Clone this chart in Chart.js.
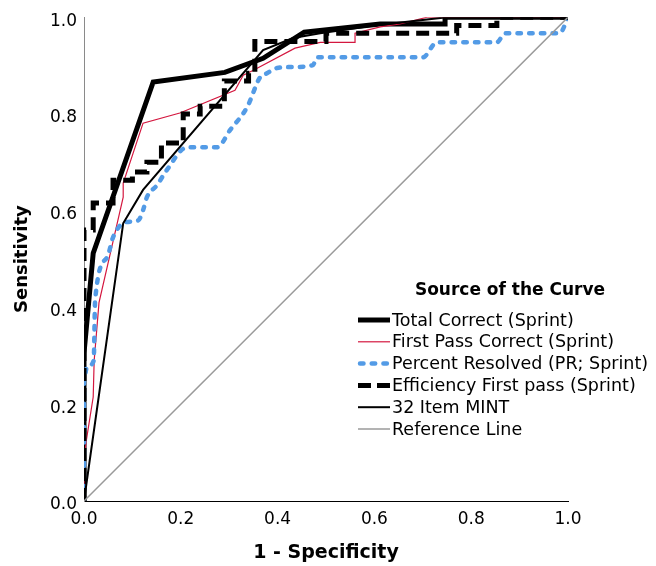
<!DOCTYPE html>
<html>
<head>
<meta charset="utf-8">
<script src="https://cdn.jsdelivr.net/npm/chart.js@4/dist/chart.umd.min.js"></script>
<style>
  html, body { margin: 0; padding: 0; background: #fff; }
  #wrap { width: 656px; height: 566px; }
</style>
</head>
<body>
<div id="wrap"><canvas id="roc" width="656" height="566"></canvas></div>
<script>
// ROC curves (x = 1 - specificity, y = sensitivity)
const totalFpr = [0, 0, 0.019, 0.143, 0.291, 0.37, 0.455, 0.612, 0.746, 0.746, 1]
const totalTpr = [0, 0.306, 0.512, 0.866, 0.886, 0.915, 0.969, 0.986, 0.986, 1, 1]

const firstPassFpr = [0, 0, 0.004, 0.019, 0.021, 0.031, 0.081, 0.081, 0.122, 0.198, 0.312, 0.329, 0.349, 0.436, 0.488, 0.56, 0.56, 0.612, 0.653, 0.709, 1]
const firstPassTpr = [0, 0.07, 0.12, 0.215, 0.29, 0.41, 0.628, 0.657, 0.781, 0.802, 0.849, 0.88, 0.89, 0.936, 0.948, 0.948, 0.967, 0.98, 0.986, 1, 1]

const resolvedFpr = [0, 0, 0.006, 0.02, 0.023, 0.048, 0.06, 0.085, 0.112, 0.122, 0.13, 0.151, 0.171, 0.213, 0.275, 0.302, 0.337, 0.364, 0.378, 0.399, 0.432, 0.473, 0.481, 0.653, 0.70, 0.729, 0.853, 0.87, 0.983, 1]
const resolvedTpr = [0, 0.25, 0.277, 0.29, 0.415, 0.504, 0.545, 0.576, 0.58, 0.601, 0.628, 0.653, 0.684, 0.731, 0.731, 0.767, 0.814, 0.876, 0.884, 0.895, 0.897, 0.901, 0.917, 0.917, 0.917, 0.948, 0.948, 0.967, 0.967, 1]

const efficiencyFpr = [0, 0, 0.019, 0.019, 0.06, 0.06, 0.1, 0.1, 0.13, 0.13, 0.16, 0.16, 0.205, 0.205, 0.24, 0.24, 0.29, 0.29, 0.34, 0.34, 0.353, 0.353, 0.5, 0.5, 0.77, 0.77, 0.853, 0.853, 1]
const efficiencyTpr = [0, 0.56, 0.56, 0.616, 0.616, 0.663, 0.663, 0.68, 0.68, 0.70, 0.70, 0.74, 0.74, 0.80, 0.80, 0.816, 0.816, 0.868, 0.868, 0.884, 0.884, 0.95, 0.95, 0.967, 0.967, 0.983, 0.983, 1, 1]

const mintFpr = [0, 0.081, 0.122, 0.37, 0.432, 0.488, 0.6, 0.75, 1]
const mintTpr = [0, 0.574, 0.643, 0.932, 0.957, 0.967, 0.983, 1, 1]

const referenceFpr = [0, 1]
const referenceTpr = [0, 1]

const seriesLabels = [
  'Total Correct (Sprint)',
  'First Pass Correct (Sprint)',
  'Percent Resolved (PR; Sprint)',
  'Efficiency First pass (Sprint)',
  '32 Item MINT',
  'Reference Line'
]
const xTickLabels = ['0.0', '0.2', '0.4', '0.6', '0.8', '1.0']
const yTickLabels = ['0.0', '0.2', '0.4', '0.6', '0.8', '1.0']

const FONT = '"DejaVu Sans", "Liberation Sans", sans-serif'

function points(xs, ys) {
  return xs.map((x, i) => ({ x: x, y: ys[i] }))
}

function curve(label, xs, ys, style) {
  return Object.assign({
    label: label,
    data: points(xs, ys),
    showLine: true,
    fill: false,
    pointRadius: 0,
    pointHoverRadius: 0,
    tension: 0,
    borderCapStyle: 'butt',
    borderJoinStyle: 'miter'
  }, style)
}

// legend drawn by hand, SPSS style: title on top, short line sample + label
const curveLegend = {
  id: 'curveLegend',
  afterDraw(chart) {
    const ctx = chart.ctx
    ctx.save()
    ctx.fillStyle = '#000'
    ctx.textBaseline = 'middle'
    ctx.textAlign = 'center'
    ctx.font = 'bold 17px ' + FONT
    ctx.fillText('Source of the Curve', 510, 291)

    ctx.textAlign = 'left'
    ctx.font = '17.5px ' + FONT
    chart.data.datasets.forEach((ds, i) => {
      const y = 320 + i * 21.8
      ctx.beginPath()
      ctx.strokeStyle = ds.borderColor
      ctx.lineWidth = ds.borderWidth
      ctx.setLineDash(ds.legendDash || ds.borderDash || [])
      ctx.lineCap = ds.borderCapStyle || 'butt'
      ctx.moveTo(ds.borderCapStyle === 'round' ? 360 : 358, y)
      ctx.lineTo(ds.borderCapStyle === 'round' ? 389 : 390, y)
      ctx.stroke()
      ctx.fillText(ds.label, 392, y + 1)
    })
    ctx.restore()
  }
}

const datasets = [
  curve(seriesLabels[0], totalFpr, totalTpr, {
    borderColor: '#000000', borderWidth: 5, order: 6
  }),
  curve(seriesLabels[1], firstPassFpr, firstPassTpr, {
    borderColor: '#d4173f', borderWidth: 1.2, order: 5
  }),
  curve(seriesLabels[2], resolvedFpr, resolvedTpr, {
    borderColor: '#539be6', borderWidth: 4.5, borderDash: [3.5, 8.2],
    borderCapStyle: 'round', cubicInterpolationMode: 'monotone', order: 4
  }),
  curve(seriesLabels[3], efficiencyFpr, efficiencyTpr, {
    borderColor: '#000000', borderWidth: 5, borderDash: [13, 7],
    legendDash: [13, 6], order: 3
  }),
  curve(seriesLabels[4], mintFpr, mintTpr, {
    borderColor: '#000000', borderWidth: 2, order: 2
  }),
  curve(seriesLabels[5], referenceFpr, referenceTpr, {
    borderColor: '#9a9a9a', borderWidth: 1.5, order: 1
  })
]

new Chart(document.getElementById('roc'), {
  type: 'scatter',
  data: { datasets: datasets },
  options: {
    responsive: false,
    animation: false,
    events: [],
    layout: { padding: { top: 17, right: 88, left: 0, bottom: 0 } },
    plugins: {
      legend: { display: false },
      tooltip: { enabled: false }
    },
    scales: {
      x: {
        type: 'linear',
        min: 0,
        max: 1,
        afterFit(scale) { scale.height = 65 },
        grid: { display: false, drawTicks: false },
        border: { display: true, color: '#000', width: 1 },
        ticks: {
          stepSize: 0.2,
          padding: 8,
          color: '#000',
          font: { family: FONT, size: 17 },
          maxRotation: 0,
          callback: (v, i) => xTickLabels[i]
        },
        title: {
          display: true,
          text: '1 - Specificity',
          color: '#000',
          font: { family: FONT, size: 19, weight: 'bold', lineHeight: 1.2 },
          padding: { top: 0, bottom: 2 }
        }
      },
      y: {
        type: 'linear',
        min: 0,
        max: 1,
        afterFit(scale) { scale.width = 84 },
        grid: { display: false, drawTicks: false },
        border: { display: true, color: '#8a8a8a', width: 1 },
        ticks: {
          stepSize: 0.2,
          padding: 7,
          labelOffset: 4,
          color: '#000',
          font: { family: FONT, size: 17 },
          callback: (v, i) => yTickLabels[i]
        },
        title: {
          display: true,
          text: 'Sensitivity',
          color: '#000',
          font: { family: FONT, size: 18, weight: 'bold', lineHeight: 1.2 },
          padding: { top: 12, bottom: 0 }
        }
      }
    }
  },
  plugins: [curveLegend]
})
</script>
</body>
</html>
